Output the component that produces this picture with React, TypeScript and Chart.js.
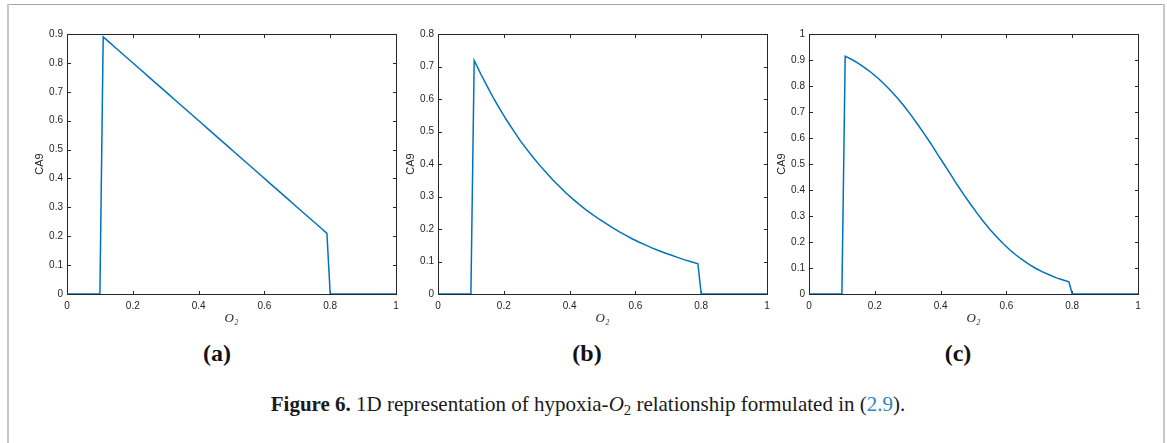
import React, { useEffect, useRef } from "react";
import { Chart, registerables } from "chart.js";

Chart.register(...registerables);

// ---------- data ----------
const O2 = [
  0, 0.1, 0.11, 0.13, 0.15, 0.17, 0.19, 0.21, 0.23, 0.25, 0.27, 0.29, 0.31, 0.33,
  0.35, 0.37, 0.39, 0.41, 0.43, 0.45, 0.47, 0.49, 0.51, 0.53, 0.55, 0.57, 0.59,
  0.61, 0.63, 0.65, 0.67, 0.69, 0.71, 0.73, 0.75, 0.77, 0.79, 0.8, 1.0,
];

const CA9_A = [
  0, 0, 0.89, 0.87, 0.85, 0.83, 0.81, 0.79, 0.77, 0.75, 0.73, 0.71, 0.69, 0.67,
  0.65, 0.63, 0.61, 0.59, 0.57, 0.55, 0.53, 0.51, 0.49, 0.47, 0.45, 0.43, 0.41,
  0.39, 0.37, 0.35, 0.33, 0.31, 0.29, 0.27, 0.25, 0.23, 0.21, 0, 0,
];

const CA9_B = [
  0, 0, 0.719, 0.677, 0.638, 0.6, 0.566, 0.533, 0.502, 0.472, 0.445, 0.419, 0.395,
  0.372, 0.35, 0.33, 0.31, 0.292, 0.275, 0.259, 0.244, 0.23, 0.217, 0.204, 0.192,
  0.181, 0.17, 0.16, 0.151, 0.142, 0.134, 0.126, 0.119, 0.112, 0.105, 0.099, 0.093,
  0, 0,
];

const CA9_C = [
  0, 0, 0.915, 0.902, 0.887, 0.87, 0.851, 0.83, 0.806, 0.78, 0.752, 0.721, 0.688,
  0.653, 0.617, 0.579, 0.539, 0.5, 0.461, 0.421, 0.383, 0.347, 0.312, 0.279, 0.248,
  0.22, 0.194, 0.17, 0.149, 0.13, 0.113, 0.098, 0.085, 0.074, 0.063, 0.055, 0.047,
  0, 0,
];

const X_TICKS = [0, 0.2, 0.4, 0.6, 0.8, 1];
const Y_TICKS_A = [0, 0.1, 0.2, 0.3, 0.4, 0.5, 0.6, 0.7, 0.8, 0.9];
const Y_TICKS_B = [0, 0.1, 0.2, 0.3, 0.4, 0.5, 0.6, 0.7, 0.8];
const Y_TICKS_C = [0, 0.1, 0.2, 0.3, 0.4, 0.5, 0.6, 0.7, 0.8, 0.9, 1];

const PANEL_LABELS = ["(a)", "(b)", "(c)"];
const X_TITLE = "O₂";
const Y_TITLE = "CA9";

// ---------- layout ----------
const PLOT_LEFTS = [67, 438, 809];
const PLOT_W = 329;
const LABEL_CENTERS = [217, 587, 958];
const CAPTION_CENTER = 588;
const RIGHT_PAD = 24;
const CANVAS_W = 67 + PLOT_W + RIGHT_PAD;
const CANVAS_H = 330;
const AXIS_COLOR = "#262626";
const LINE_COLOR = "#0072BD";
const SANS = "'Liberation Sans', Arial, Helvetica, sans-serif";
const SERIF = "'Liberation Serif', 'DejaVu Serif', 'Times New Roman', serif";

const boxPlugin = {
  id: "matlabBox",
  beforeDatasetsDraw(chart: any) {
    const { ctx, chartArea } = chart;
    const { left, top, right, bottom } = chartArea;
    const xs = chart.scales.x;
    const ys = chart.scales.y;
    const T = 3;
    ctx.save();
    ctx.strokeStyle = AXIS_COLOR;
    ctx.lineWidth = 1;
    ctx.strokeRect(left + 0.5, top + 0.5, right - left, bottom - top);
    ctx.beginPath();
    xs.ticks.forEach((t: any) => {
      const px = Math.round(xs.getPixelForValue(t.value)) + 0.5;
      ctx.moveTo(px, bottom);
      ctx.lineTo(px, bottom - T);
      ctx.moveTo(px, top + 1);
      ctx.lineTo(px, top + 1 + T);
    });
    ys.ticks.forEach((t: any) => {
      const py = Math.round(ys.getPixelForValue(t.value)) + 0.5;
      ctx.moveTo(left + 1, py);
      ctx.lineTo(left + 1 + T, py);
      ctx.moveTo(right, py);
      ctx.lineTo(right - T, py);
    });
    ctx.stroke();
    ctx.restore();
  },
};

function Panel({ values, yTicks, left }: { values: number[]; yTicks: number[]; left: number }) {
  const ref = useRef<HTMLCanvasElement>(null);
  useEffect(() => {
    const chart = new Chart(ref.current as HTMLCanvasElement, {
      type: "line",
      data: {
        datasets: [
          {
            data: O2.map((x, i) => ({ x, y: values[i] })),
            borderColor: LINE_COLOR,
            borderWidth: 1.5,
            pointRadius: 0,
            tension: 0,
            fill: false,
          },
        ],
      },
      options: {
        responsive: false,
        animation: false,
        devicePixelRatio: 1,
        events: [],
        layout: { padding: { top: 34, right: RIGHT_PAD, bottom: 0, left: 0 } },
        plugins: { legend: { display: false }, tooltip: { enabled: false } },
        scales: {
          x: {
            type: "linear",
            min: 0,
            max: 1,
            grid: { display: false, drawTicks: false, tickLength: 0 },
            border: { display: false },
            afterBuildTicks: (s: any) => {
              s.ticks = X_TICKS.map((v) => ({ value: v }));
            },
            afterFit: (s: any) => {
              s.height = CANVAS_H - 294;
            },
            ticks: {
              autoSkip: false,
              maxRotation: 0,
              padding: 6,
              color: AXIS_COLOR,
              font: { family: SANS, size: 10 },
              callback: (v: any) => String(v),
            },
            title: {
              display: true,
              text: X_TITLE,
              color: AXIS_COLOR,
              font: { family: SERIF, size: 13, style: "italic" },
              padding: { top: 0, bottom: 4 },
            },
          },
          y: {
            type: "linear",
            min: 0,
            max: yTicks[yTicks.length - 1],
            grid: { display: false, drawTicks: false, tickLength: 0 },
            border: { display: false },
            afterBuildTicks: (s: any) => {
              s.ticks = yTicks.map((v) => ({ value: v }));
            },
            afterFit: (s: any) => {
              s.width = 67;
            },
            ticks: {
              autoSkip: false,
              padding: 4,
              color: AXIS_COLOR,
              font: { family: SANS, size: 10 },
              callback: (v: any) => String(v),
            },
            title: {
              display: true,
              text: Y_TITLE,
              color: AXIS_COLOR,
              font: { family: SANS, size: 11 },
              padding: { top: 33, bottom: 0 },
            },
          },
        },
      } as any,
      plugins: [boxPlugin as any],
    });
    return () => chart.destroy();
  }, []);
  return (
    <canvas
      ref={ref}
      width={CANVAS_W}
      height={CANVAS_H}
      style={{ position: "absolute", left: left - 67, top: 0, width: CANVAS_W, height: CANVAS_H }}
    />
  );
}

const PANELS = [
  { values: CA9_A, yTicks: Y_TICKS_A },
  { values: CA9_B, yTicks: Y_TICKS_B },
  { values: CA9_C, yTicks: Y_TICKS_C },
];

export default function App() {
  return (
    <div
      style={{
        position: "absolute",
        left: 0,
        top: 0,
        width: 1167,
        height: 443,
        background: "#ffffff",
        overflow: "hidden",
      }}
    >
      {PANELS.map((p, i) => (
        <Panel key={i} values={p.values} yTicks={p.yTicks} left={PLOT_LEFTS[i]} />
      ))}

      <div style={{ position: "absolute", left: 7, top: 4, width: 1158, height: 1, background: "#a6a6a6" }} />
      <div style={{ position: "absolute", left: 7, top: 4, width: 2, height: 439, background: "#c8c8c8" }} />
      <div style={{ position: "absolute", left: 1163, top: 4, width: 2, height: 439, background: "#c8c8c8" }} />

      {PANEL_LABELS.map((lab, i) => (
        <div
          key={lab}
          style={{
            position: "absolute",
            left: LABEL_CENTERS[i] - 50,
            width: 100,
            top: 341,
            textAlign: "center",
            fontFamily: SERIF,
            fontWeight: "bold",
            fontSize: 24,
            lineHeight: "24px",
            color: "#111",
          }}
        >
          {lab}
        </div>
      ))}

      <div
        style={{
          position: "absolute",
          left: CAPTION_CENTER - 400,
          width: 800,
          top: 394,
          textAlign: "center",
          fontFamily: SERIF,
          fontSize: 21,
          lineHeight: "21px",
          color: "#1a1a1a",
          whiteSpace: "nowrap",
        }}
      >
        <b>Figure 6.</b> 1D representation of hypoxia-<i>O</i>
        <span style={{ fontSize: "0.7em", verticalAlign: "-0.25em", lineHeight: 0 }}>2</span> relationship
        formulated in (<span style={{ color: "#2e86c1" }}>2.9</span>).
      </div>
    </div>
  );
}
